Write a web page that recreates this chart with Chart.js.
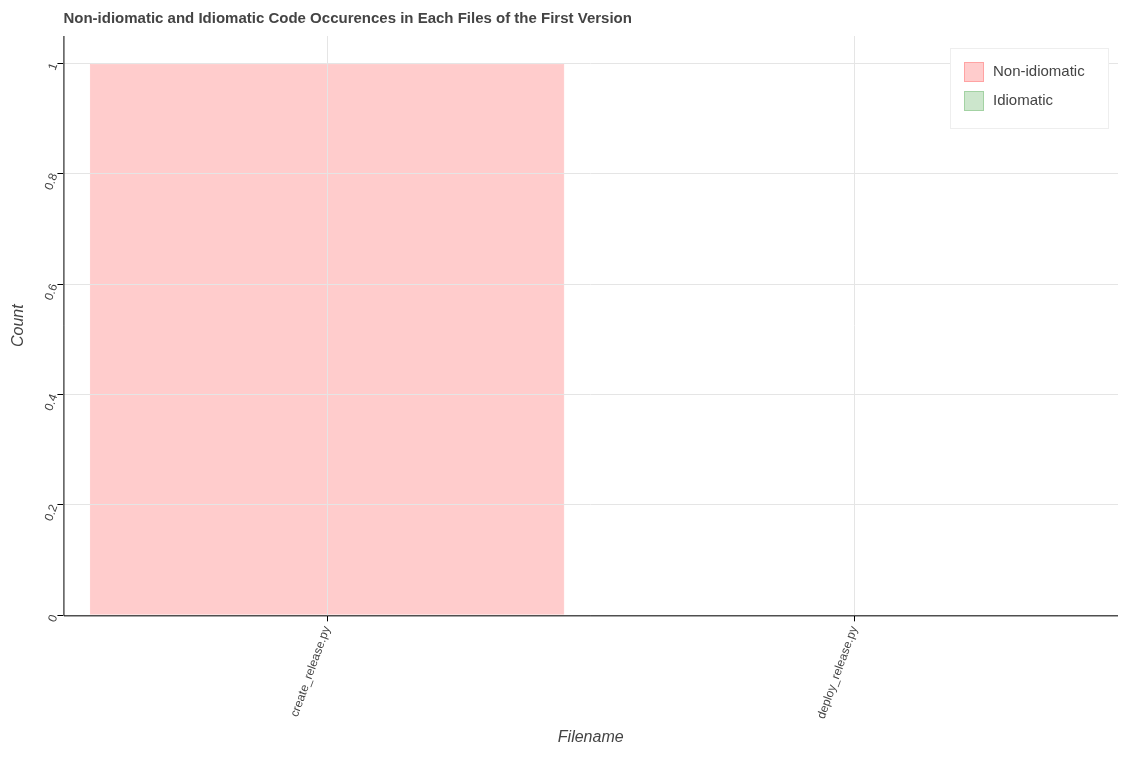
<!DOCTYPE html>
<html><head><meta charset="utf-8">
<script src="https://cdn.jsdelivr.net/npm/chart.js@4"></script>
<style>body{margin:0;background:#fff}#wrap{width:1131px;height:759px}</style>
</head><body>
<div id="wrap"><canvas id="c"></canvas></div>
<script>
const filenames = ["create_release.py", "deploy_release.py"];
const nonIdiomatic = [1, 0];
const idiomatic = [0, 0];
const yTicks = [0, 0.2, 0.4, 0.6, 0.8, 1];
const titleText = "Non-idiomatic and Idiomatic Code Occurences in Each Files of the First Version";

// bokeh-ish title, axis lines and inner legend
const decor = {
    id: "decor",
    afterDraw(chart) {
        const ctx = chart.ctx, a = chart.chartArea;
        ctx.save();
        ctx.fillStyle = "#444";
        ctx.font = "bold 15px 'Liberation Sans'";
        ctx.textBaseline = "middle";
        ctx.fillText(titleText, a.left, 19);
        ctx.strokeStyle = "#000";
        ctx.lineWidth = 1;
        ctx.beginPath();
        ctx.moveTo(a.left + 0.5, a.top);
        ctx.lineTo(a.left + 0.5, a.bottom + 0.5);
        ctx.lineTo(a.right, a.bottom + 0.5);
        ctx.stroke();
        // legend
        const w = 158, h = 80, x = a.right - w - 10, y = a.top + 12;
        ctx.fillStyle = "#fff";
        ctx.fillRect(x, y, w, h);
        ctx.strokeStyle = "#eee";
        ctx.strokeRect(x + 0.5, y + 0.5, w, h);
        chart.data.datasets.forEach((ds, i) => {
            const ry = y + 14 + i * 29;
            ctx.fillStyle = ds.backgroundColor;
            ctx.fillRect(x + 14, ry, 20, 20);
            ctx.strokeStyle = ds.borderColor;
            ctx.strokeRect(x + 14.5, ry + 0.5, 19, 19);
            ctx.fillStyle = "#444";
            ctx.font = "15px 'Liberation Sans'";
            ctx.fillText(ds.label, x + 43, ry + 10);
        });
        ctx.restore();
    }
};

new Chart(document.getElementById("c"), {
    type: "bar",
    data: {
        labels: filenames,
        datasets: [
            {label: "Non-idiomatic", data: nonIdiomatic, backgroundColor: "rgba(255,0,0,0.2)", borderColor: "rgba(255,0,0,0.2)", borderWidth: 1, barPercentage: 0.9, categoryPercentage: 1},
            {label: "Idiomatic", data: idiomatic, backgroundColor: "rgba(0,128,0,0.2)", borderColor: "rgba(0,128,0,0.2)", borderWidth: 1, barPercentage: 0.9, categoryPercentage: 1}
        ]
    },
    plugins: [decor],
    options: {
        responsive: true,
        maintainAspectRatio: false,
        animation: false,
        layout: {padding: {left: 5, right: 13, top: 36, bottom: 8}},
        plugins: {
            legend: {display: false},
            tooltip: {enabled: false}
        },
        scales: {
            x: {
                stacked: true,
                grid: {color: "#e5e5e5", z: 1, offset: false, tickColor: "#000", tickLength: 6},
                border: {display: false},
                ticks: {color: "#444", minRotation: 70, maxRotation: 70, font: {family: "Liberation Sans", size: 12}},
                title: {display: true, text: "Filename", color: "#444", font: {family: "Liberation Sans", size: 16, style: "italic"}}
            },
            y: {
                stacked: true,
                min: 0, max: 1.05,
                afterBuildTicks: axis => { axis.ticks = yTicks.map(v => ({value: v})); },
                grid: {color: "#e5e5e5", z: 1, tickColor: "#000", tickLength: 6},
                border: {display: false},
                ticks: {color: "#444", minRotation: 70, maxRotation: 70, font: {family: "Liberation Sans", size: 12}, callback: v => String(v)},
                title: {display: true, text: "Count", color: "#444", font: {family: "Liberation Sans", size: 16, style: "italic"}}
            }
        }
    }
});
</script>
</body></html>
